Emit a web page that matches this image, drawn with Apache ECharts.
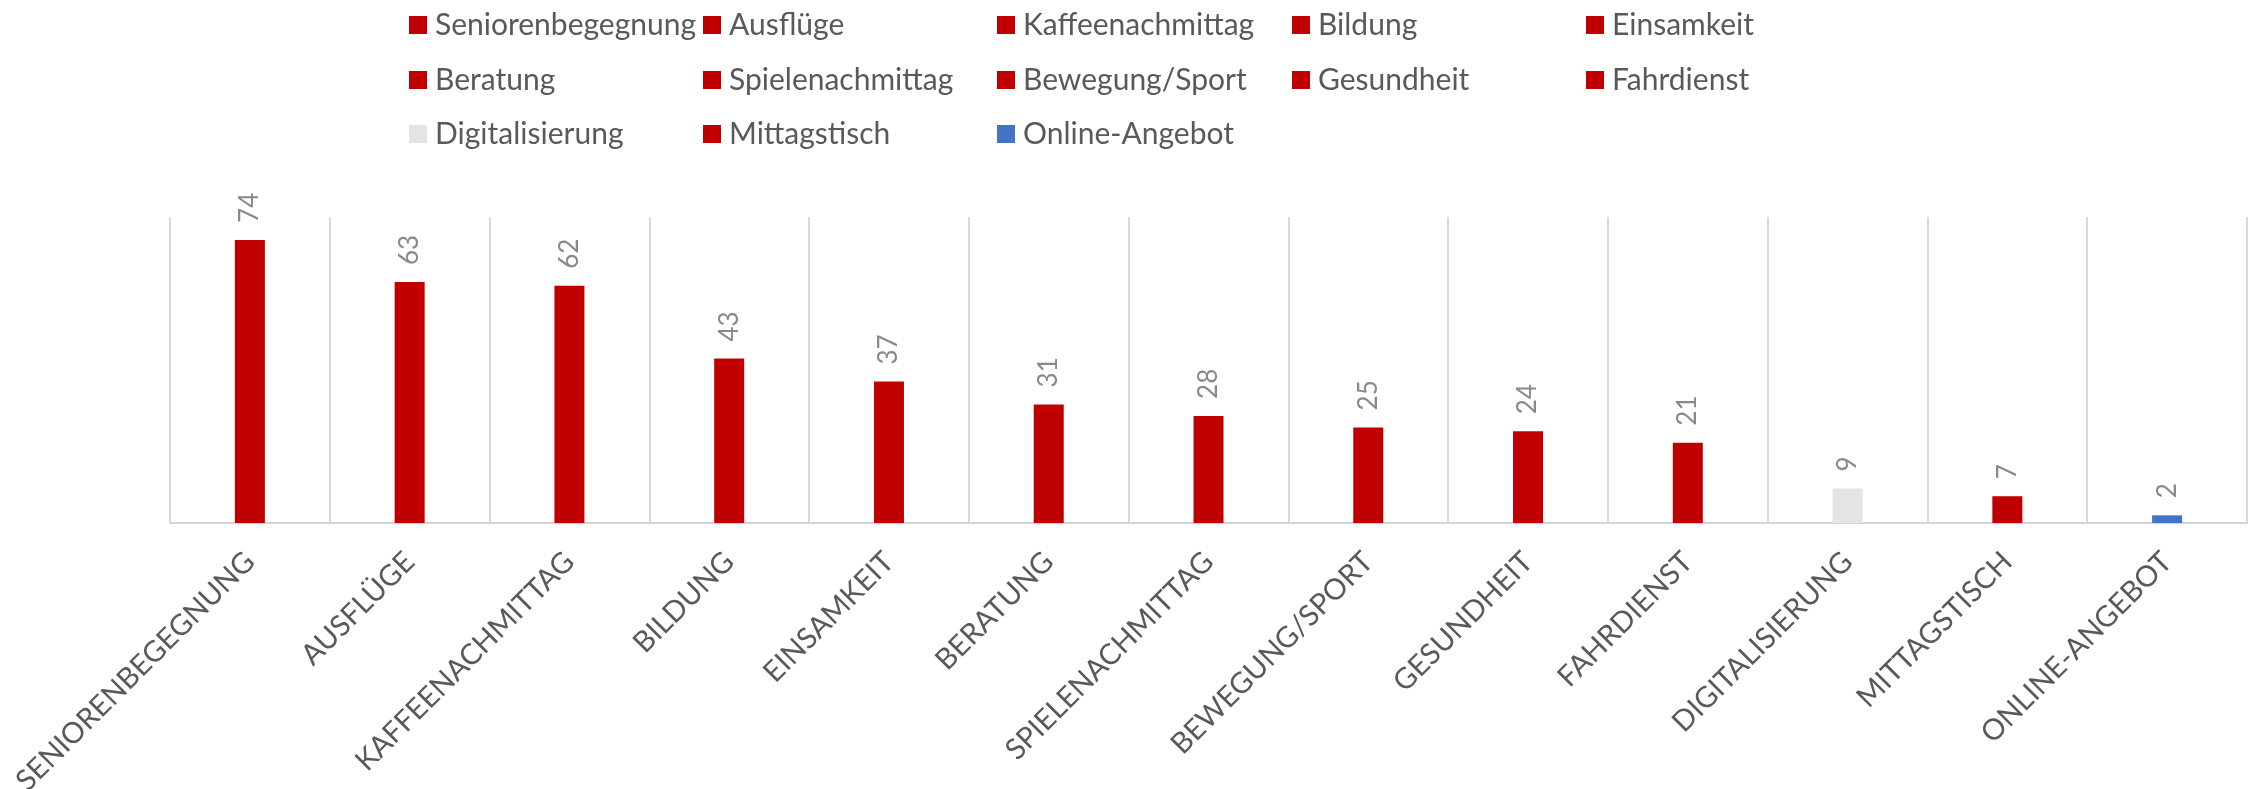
<!DOCTYPE html>
<html>
<head>
<meta charset="utf-8">
<script src="https://cdn.jsdelivr.net/npm/echarts@6/dist/echarts.min.js"></script>
<style>
html,body{margin:0;padding:0;background:#fff;}
#chart{width:2249px;height:789px;}
</style>
</head>
<body>
<div id="chart"></div>
<script>
const categories = ["Seniorenbegegnung","Ausflüge","Kaffeenachmittag","Bildung","Einsamkeit","Beratung","Spielenachmittag","Bewegung/Sport","Gesundheit","Fahrdienst","Digitalisierung","Mittagstisch","Online-Angebot"];
const values = [74,63,62,43,37,31,28,25,24,21,9,7,2];
const colors = ["#c00000","#c00000","#c00000","#c00000","#c00000","#c00000","#c00000","#c00000","#c00000","#c00000","#e4e4e4","#c00000","#4472c4"];

const FONT = "Lato, 'Open Sans', sans-serif";
const legendCols = [409, 703, 997, 1292, 1586];
const legendRows = [10, 65, 119];

const series = categories.map((name, i) => ({
  name: name,
  type: 'bar',
  stack: 'all',
  barWidth: 30,
  itemStyle: { color: colors[i] },
  label: {
    show: true,
    position: 'top',
    rotate: 90,
    align: 'left',
    verticalAlign: 'middle',
    distance: 17,
    color: '#898989',
    fontSize: 26,
    fontFamily: FONT
  },
  data: categories.map((c, j) => (j === i ? values[i] : '-'))
}));

const legends = categories.map((name, i) => ({
  data: [name],
  left: legendCols[i % 5],
  top: legendRows[Math.floor(i / 5)],
  padding: 0,
  icon: 'rect',
  itemWidth: 18,
  itemHeight: 18,
  selectedMode: false,
  textStyle: { color: '#595959', fontSize: 30, fontFamily: FONT, lineHeight: 30, padding: [0,0,0,3] }
}));

const chart = echarts.init(document.getElementById('chart'), null, { renderer: 'canvas' });
chart.setOption({
  animation: false,
  backgroundColor: '#ffffff',
  legend: legends,
  grid: { left: 170, right: 2, top: 217, bottom: 266, containLabel: false, outerBoundsMode: 'none' },
  xAxis: {
    type: 'category',
    data: categories,
    boundaryGap: true,
    axisLine: { show: true, lineStyle: { color: '#d4d4d4', width: 2 } },
    axisTick: { show: false },
    splitLine: { show: true, lineStyle: { color: '#d9d9d9', width: 2 } },
    axisLabel: {
      interval: 0,
      rotate: 45,
      margin: 34,
      color: '#595959',
      fontSize: 29,
      fontFamily: FONT,
      formatter: v => v.toUpperCase()
    }
  },
  yAxis: {
    type: 'value',
    min: 0,
    max: 80,
    interval: 20,
    show: false,
    splitLine: { show: false }
  },
  series: series
});
</script>
</body>
</html>
